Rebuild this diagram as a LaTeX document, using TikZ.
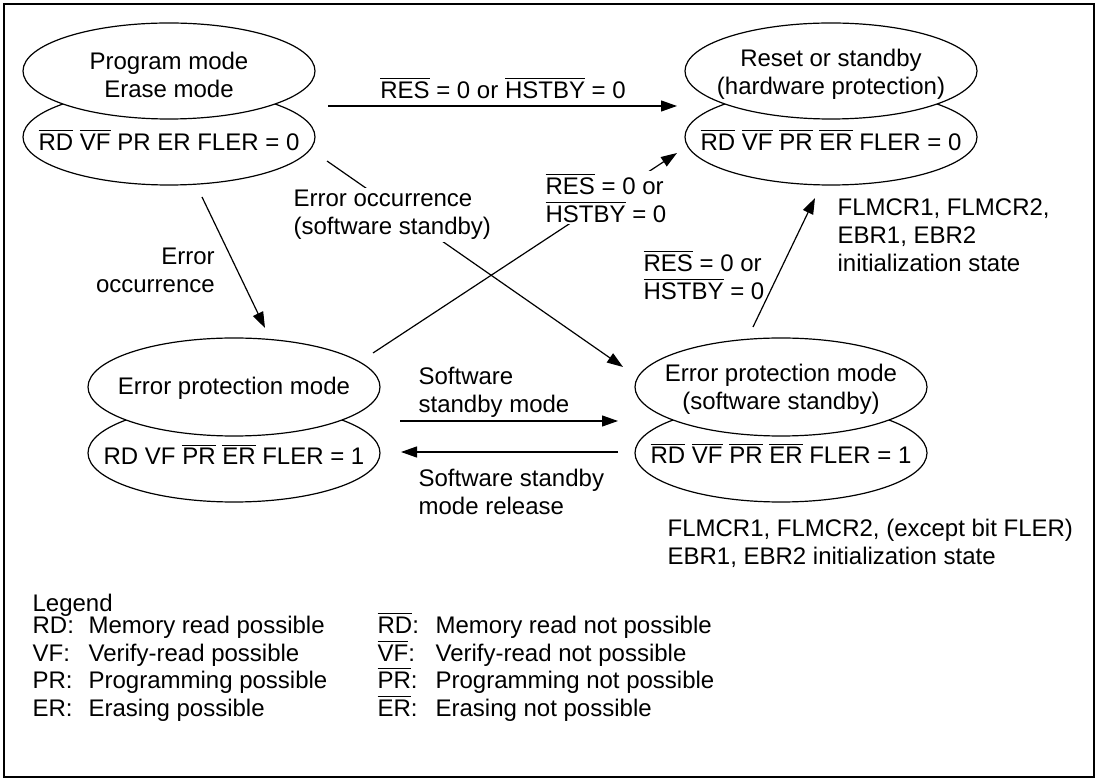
\documentclass[tikz,border=0pt]{standalone}
\usepackage{fontspec}
\setmainfont{Liberation Sans}
\usetikzlibrary{arrows.meta,positioning,shapes.geometric}
\newcommand{\actlow}[1]{\ensuremath{\overline{\mbox{#1}}}}

\begin{document}
\begin{tikzpicture}[x=0.5pt, y=-0.5pt, >={Triangle[length=8pt,width=5.5pt]},
  line width=0.6pt,
  every node/.style={font=\fontsize{12}{14}\selectfont},
  state/.style={draw, ellipse, fill=white, inner sep=0pt,
    minimum width=146pt, minimum height=48pt},
  lbl/.style={align=left, anchor=west, inner sep=1pt}]
  \useasboundingbox (0,0) rectangle (1098,780);
  \draw (4,4) rectangle (1094,777);

  % state ellipses, lower half first
  \node[state] (Alo) at (169,137) {};
  \node[state] (Aup) at (169,71) {};
  \node[state] (Blo) at (831,137) {};
  \node[state] (Bup) at (831,71) {};
  \node[state, minimum height=49pt] (Clo) at (234,453) {};
  \node[state, minimum height=49pt] (Cup) at (234,387) {};
  \node[state, minimum height=49pt] (Dlo) at (781,453) {};
  \node[state, minimum height=49pt] (Dup) at (781,387) {};

  \node (Alo-t) at (169,140) {\actlow{RD} \actlow{VF} PR ER FLER = 0};
  \node[align=center] (Aup-t) at (169,75) {Program mode\\Erase mode};
  \node (Blo-t) at (831,140)
    {\actlow{RD} \actlow{VF} \actlow{PR} \actlow{ER} FLER = 0};
  \node[align=center] (Bup-t) at (831,74) {Reset or standby\\(hardware protection)};
  \node (Clo-t) at (234,454) {RD VF \actlow{PR} \actlow{ER} FLER = 1};
  \node (Cup-t) at (234,388) {Error protection mode};
  \node (Dlo-t) at (781,453)
    {\actlow{RD} \actlow{VF} \actlow{PR} \actlow{ER} FLER = 1};
  \node[align=center] (Dup-t) at (781,389) {Error protection mode\\(software standby)};

  % transitions
  \coordinate (ab-s) at (328,106);
  \coordinate (ab-e) at (677,106);
  \draw[->] (ab-s) -- (ab-e);
  \node (ab-l) at (503,88) {\actlow{RES} = 0 or \actlow{HSTBY} = 0};

  \coordinate (ac-s) at (202,197);
  \coordinate (ac-e) at (265,328);
  \draw[->] (ac-s) -- (ac-e);
  \node[align=right, anchor=east] (ac-l) at (222,270) {Error\\occurrence};

  \coordinate (ad-s) at (327,161);
  \coordinate (ad-e) at (623,367);
  \draw[->] (ad-s) -- (ad-e);
  \node[lbl, fill=white] (ad-l) at (291,215) {Error occurrence\\(software standby)};

  \coordinate (cb-s) at (373,353);
  \coordinate (cb-e) at (677,153);
  \draw[->] (cb-s) -- (cb-e);
  \node[lbl, fill=white] (cb-l) at (543,198) {\actlow{RES} = 0 or\\\actlow{HSTBY} = 0};

  \coordinate (db-s) at (753,327);
  \coordinate (db-e) at (815,198);
  \draw[->] (db-s) -- (db-e);
  \node[lbl] (db-l) at (641,275) {\actlow{RES} = 0 or\\\actlow{HSTBY} = 0};

  \coordinate (cd-s) at (400,421);
  \coordinate (cd-e) at (618,421);
  \draw[->] (cd-s) -- (cd-e);
  \node[lbl] (cd-l) at (416,392) {Software\\standby mode};

  \coordinate (dc-s) at (618,452);
  \coordinate (dc-e) at (401,452);
  \draw[->] (dc-s) -- (dc-e);
  \node[lbl] (dc-l) at (416,492) {Software standby\\mode release};

  % register notes
  \node[lbl] (note-b) at (835,235) {FLMCR1, FLMCR2,\\EBR1, EBR2\\initialization state};
  \node[lbl] (note-d) at (665,543)
    {FLMCR1, FLMCR2, (except bit FLER)\\EBR1, EBR2 initialization state};

  % legend
  \node[lbl, anchor=base west] (leg) at (30,611) {Legend};
  \foreach \yy/\bit/\what in {633/RD/Memory read, 661/VF/Verify-read,
      688/PR/Programming, 716/ER/Erasing} {
    \node[lbl, anchor=base west] (pos-\bit) at (30,\yy) {\bit:};
    \node[lbl, anchor=base west] (pos-\bit-t) at (86,\yy) {\what\ possible};
    \node[lbl, anchor=base west] (neg-\bit) at (375,\yy) {\actlow{\bit}:};
    \node[lbl, anchor=base west] (neg-\bit-t) at (433,\yy) {\what\ not possible};
  }
\end{tikzpicture}
\end{document}
